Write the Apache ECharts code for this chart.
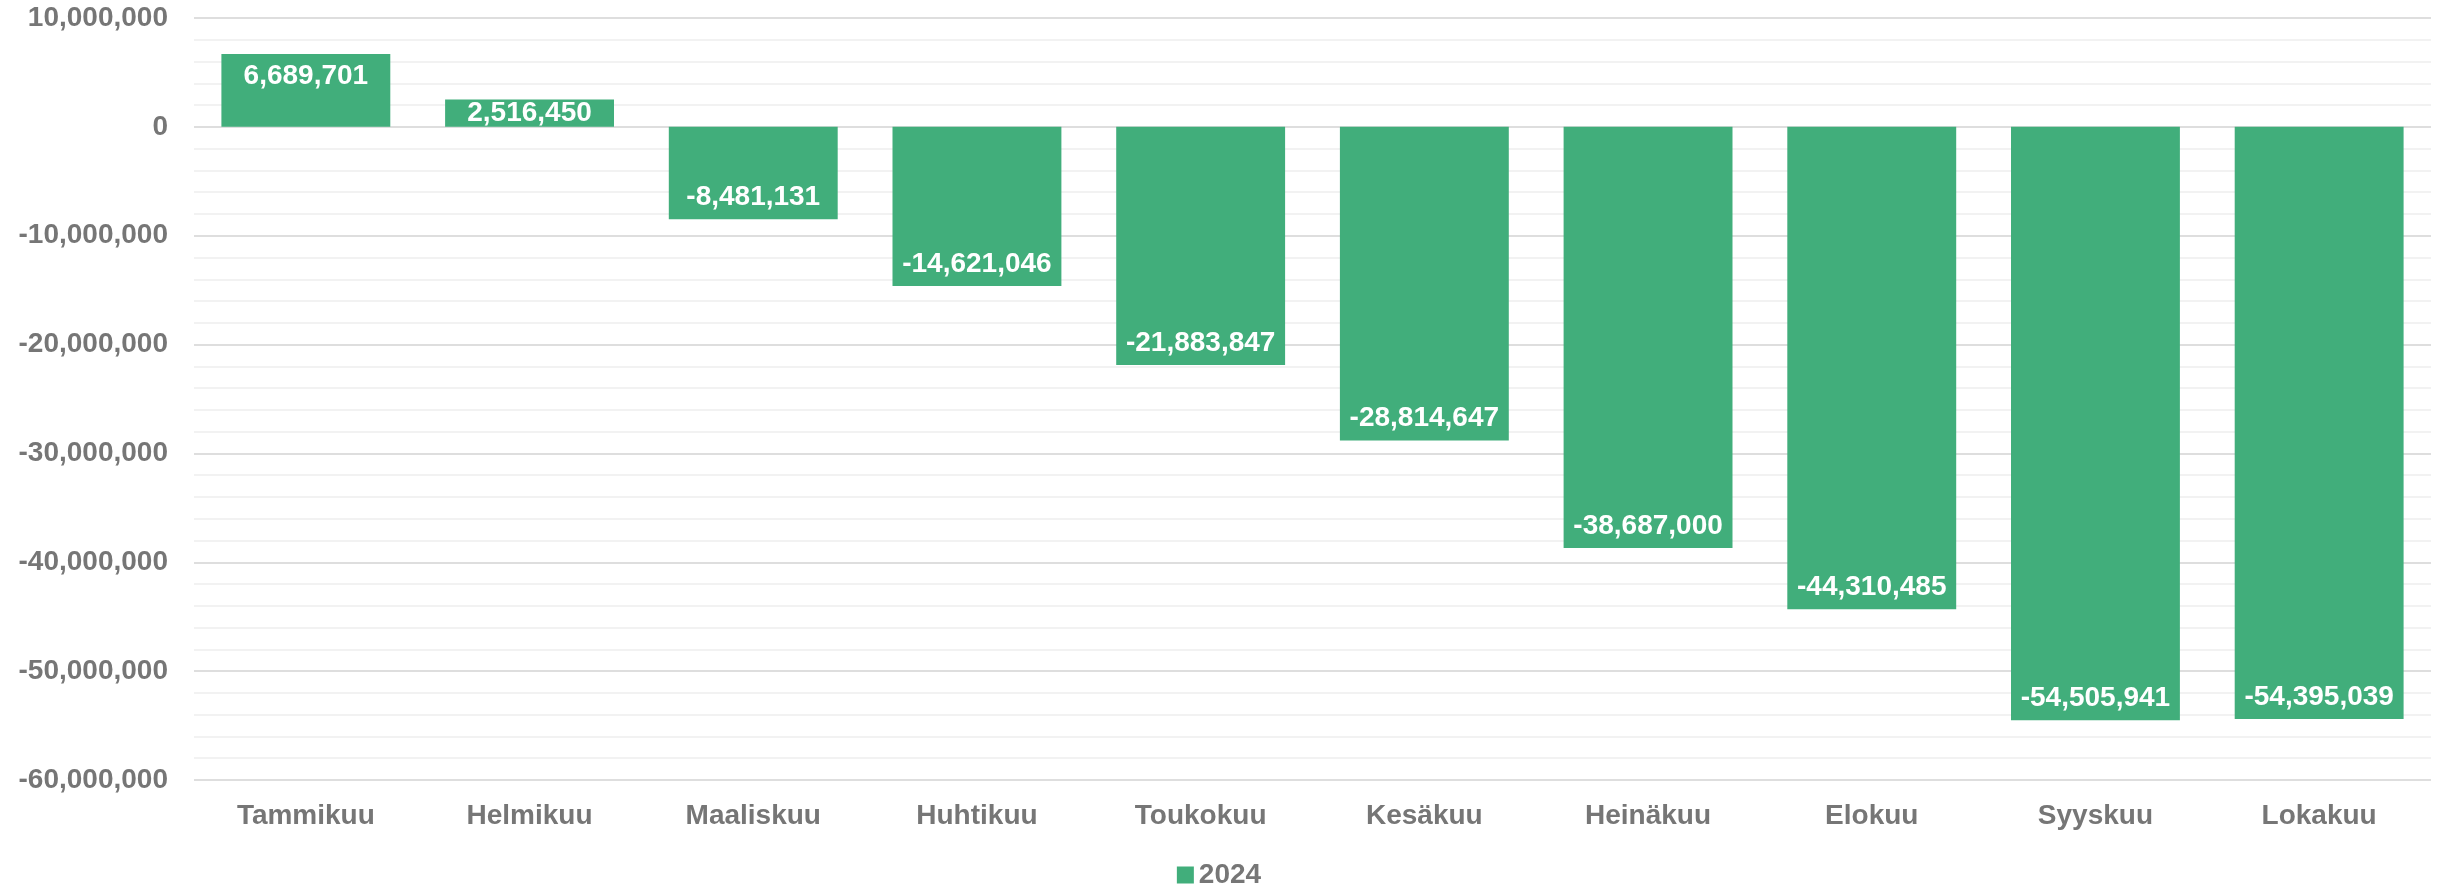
<!DOCTYPE html>
<html>
<head>
<meta charset="utf-8">
<script src="https://cdn.jsdelivr.net/npm/echarts@6/dist/echarts.min.js"></script>
<style>
  html, body { margin: 0; padding: 0; background: #fff; }
  #main { width: 2438px; height: 887px; }
</style>
</head>
<body>
<div id="main"></div>
<script>
var months = ['Tammikuu', 'Helmikuu', 'Maaliskuu', 'Huhtikuu', 'Toukokuu', 'Kesäkuu', 'Heinäkuu', 'Elokuu', 'Syyskuu', 'Lokakuu'];
var values2024 = [6689701, 2516450, -8481131, -14621046, -21883847, -28814647, -38687000, -44310485, -54505941, -54395039];
var seriesName = '2024';

var chart = echarts.init(document.getElementById('main'));

function fmt(v) {
  return Number(v).toLocaleString('en-US');
}

// label sits at the bar end, small bars get it centred like Excel does
function labelPos(v) {
  if (Math.abs(v) < 4000000) return 'inside';
  return v >= 0 ? 'insideTop' : 'insideBottom';
}

var barData = values2024.map(function (v) {
  return { value: v, label: { position: labelPos(v) } };
});

var option = {
  animation: false,
  textStyle: { fontFamily: 'Liberation Sans, Arial, sans-serif' },
  grid: { left: 194, right: 7, top: 18, bottom: 107 },
  legend: {
    top: 856,
    left: 'center',
    icon: 'rect',
    itemWidth: 17,
    itemHeight: 17,
    itemGap: 6,
    textStyle: { fontSize: 28, fontWeight: 'bold', color: '#767676' },
    data: [seriesName]
  },
  xAxis: {
    type: 'category',
    data: months,
    axisLine: { show: false },
    axisTick: { show: false },
    axisLabel: { fontSize: 28, fontWeight: 'bold', color: '#767676', margin: 22 }
  },
  yAxis: {
    type: 'value',
    min: -60000000,
    max: 10000000,
    interval: 10000000,
    axisLine: { show: false },
    axisTick: { show: false },
    minorTick: { show: false, splitNumber: 5 },
    minorSplitLine: { show: true, lineStyle: { color: '#f2f2f2', width: 2 } },
    splitLine: { lineStyle: { color: '#dedede', width: 2 } },
    axisLabel: {
      fontSize: 28, fontWeight: 'bold', color: '#767676', margin: 26,
      formatter: function (v) { return fmt(v); }
    }
  },
  series: [{
    name: seriesName,
    type: 'bar',
    data: barData,
    barWidth: '75.5%',
    itemStyle: { color: '#41ae7b' },
    label: {
      show: true,
      color: '#fff',
      fontSize: 28,
      fontWeight: 'bold',
      distance: 8,
      formatter: function (p) { return fmt(p.value); }
    }
  }]
};

chart.setOption(option);
</script>
</body>
</html>
